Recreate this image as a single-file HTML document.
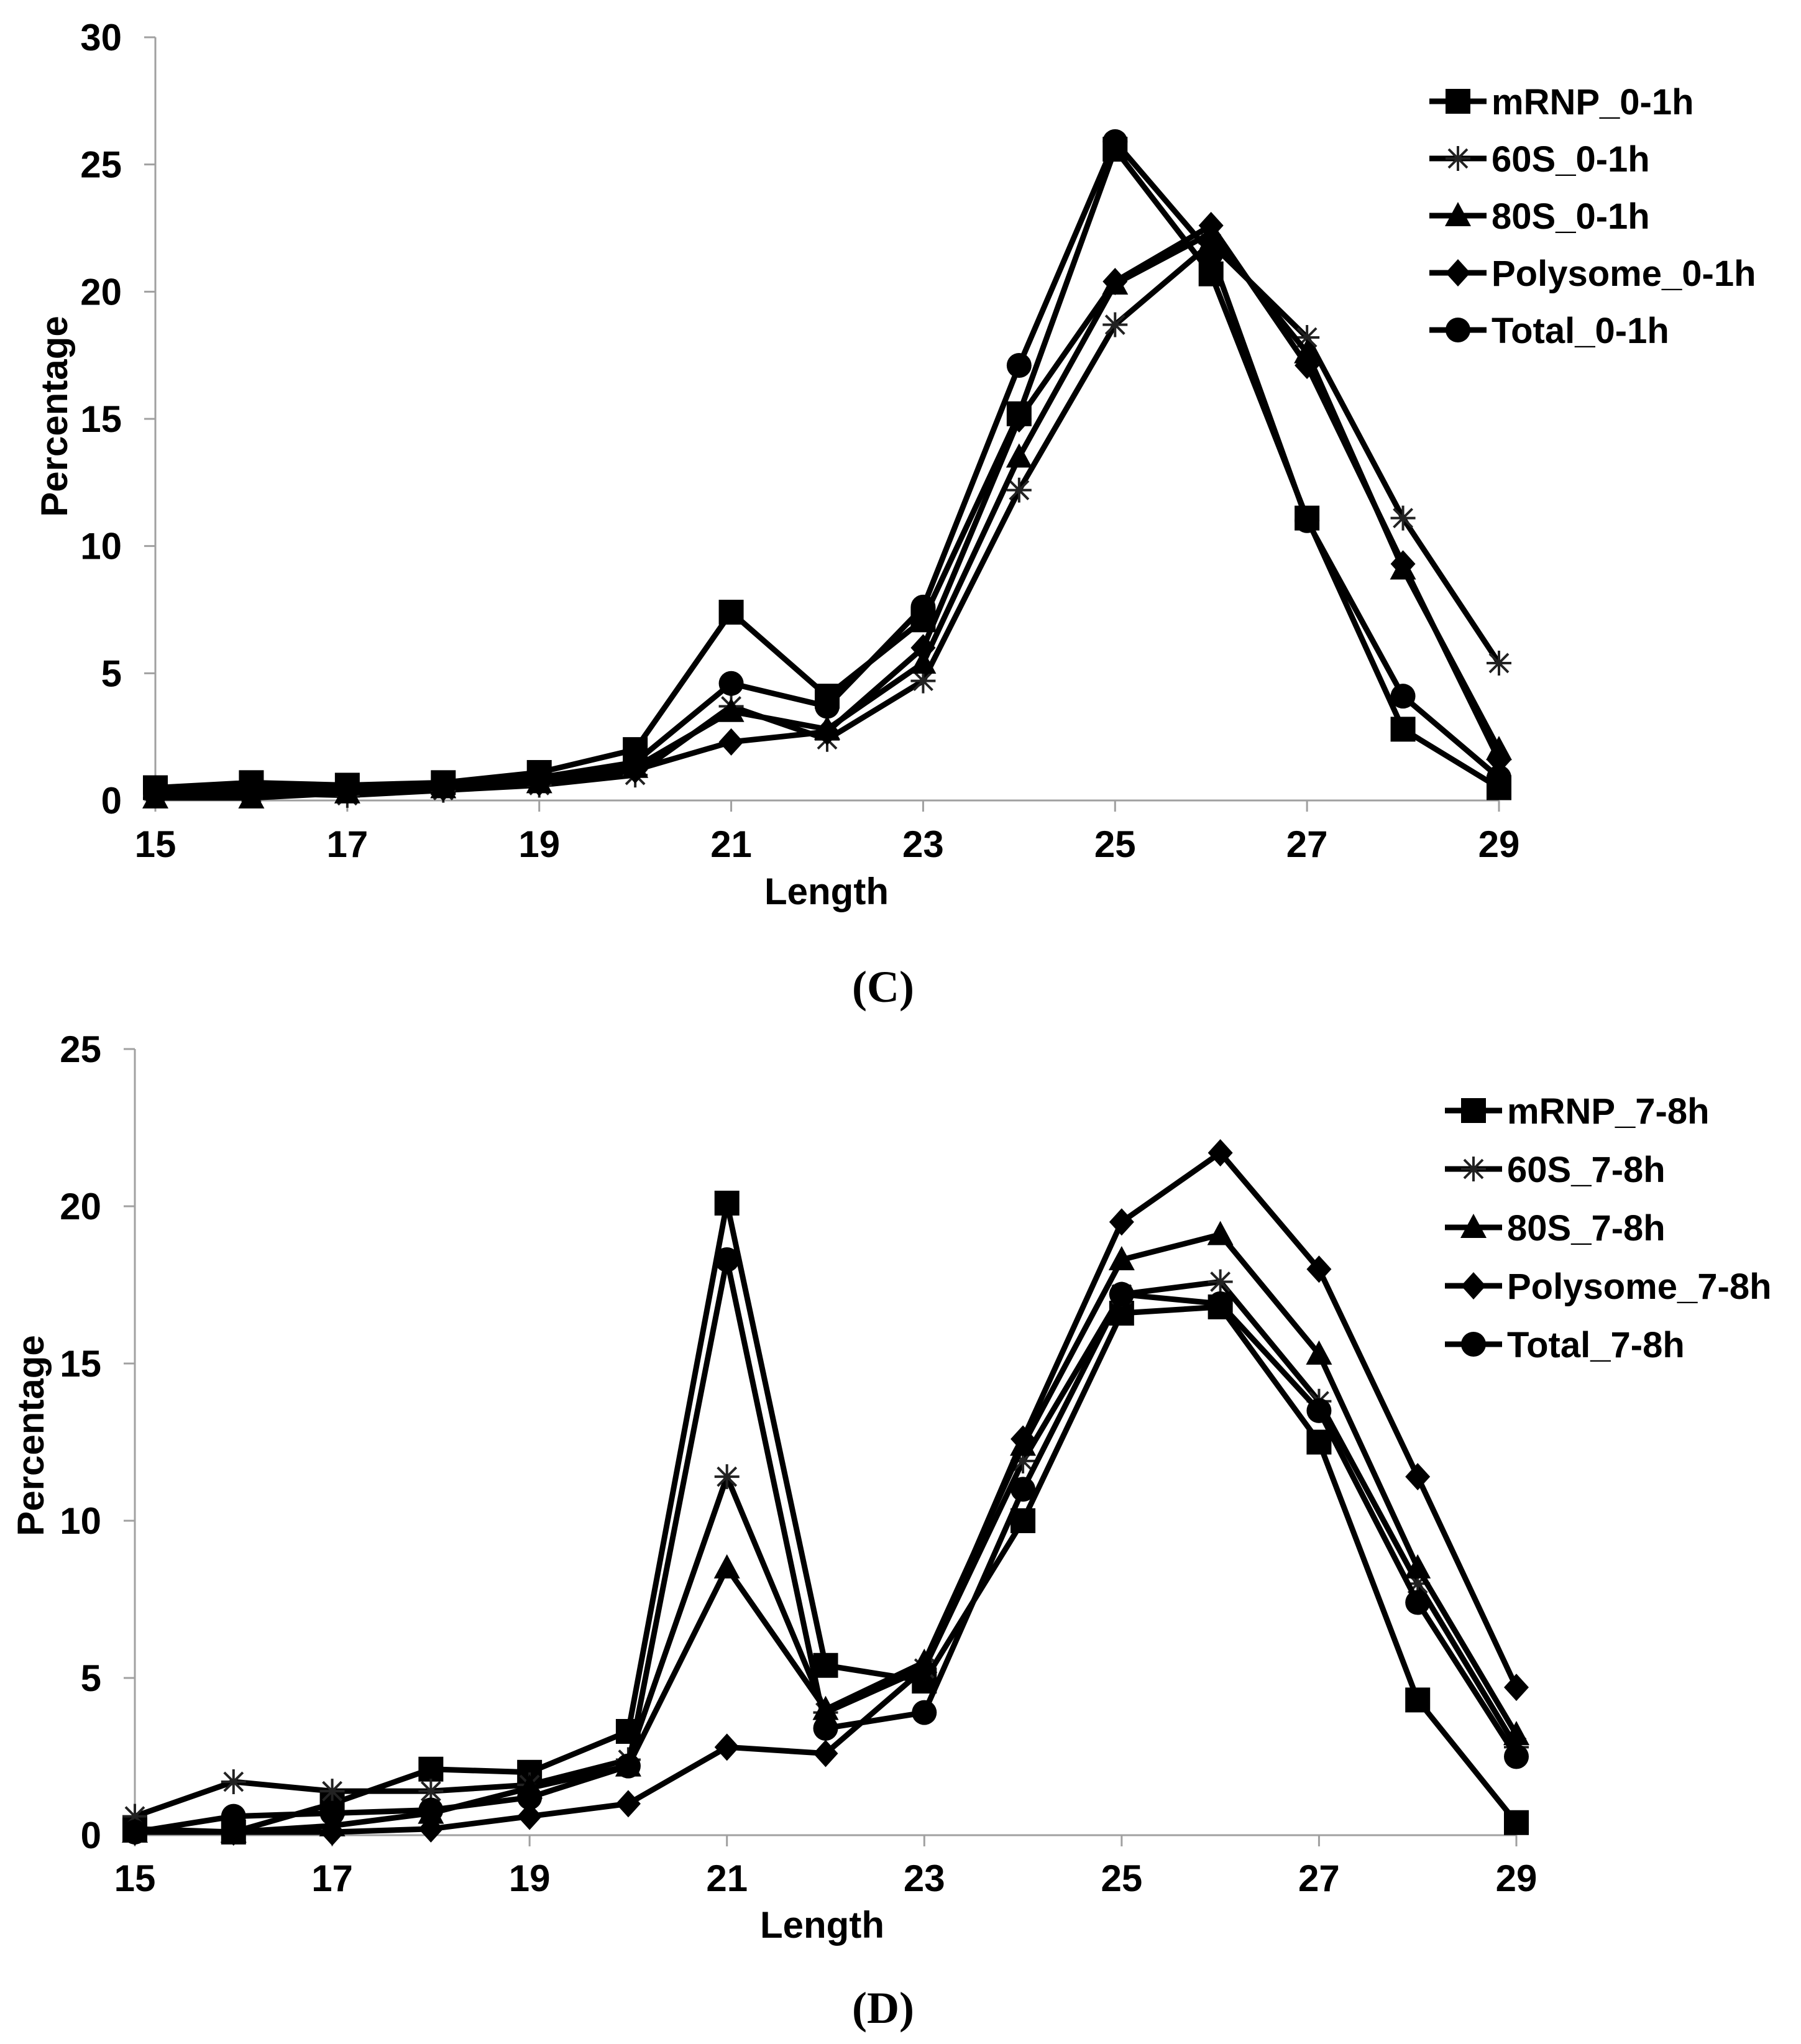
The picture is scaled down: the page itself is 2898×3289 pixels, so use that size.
<!DOCTYPE html>
<html><head><meta charset="utf-8"><style>
html,body{margin:0;padding:0;background:#fff}
svg{display:block}
text{font-family:"Liberation Sans",Arial,sans-serif;font-weight:bold;fill:#000}
.serif{font-family:"Liberation Serif",serif}
</style></head><body>
<svg id="fig" width="2898" height="3289" viewBox="0 0 2898 3289" xmlns="http://www.w3.org/2000/svg"></svg>
<script>
const categories = [15,16,17,18,19,20,21,22,23,24,25,26,27,28,29];
const xTickLabels = [15,17,19,21,23,25,27,29];
const seriesNamesC = ["mRNP_0-1h","60S_0-1h","80S_0-1h","Polysome_0-1h","Total_0-1h"];
const seriesNamesD = ["mRNP_7-8h","60S_7-8h","80S_7-8h","Polysome_7-8h","Total_7-8h"];
const markerTypes = ["square","star","triangle","diamond","circle"];
const yTicksC = [0,5,10,15,20,25,30];
const yTicksD = [0,5,10,15,20,25];
const mrnpC = [0.5,0.7,0.6,0.7,1.1,2.0,7.4,4.1,7.1,15.2,25.6,20.7,11.1,2.8,0.5];
const s60C = [0.2,0.3,0.2,0.4,0.6,1.0,3.7,2.4,4.7,12.2,18.7,21.9,18.2,11.1,5.4];
const s80C = [0.1,0.1,0.3,0.5,0.7,1.3,3.5,2.8,5.4,13.5,20.3,22.3,17.6,9.1,2.0];
const polyC = [0.3,0.3,0.4,0.5,0.7,1.2,2.3,2.7,6.0,15.0,20.4,22.6,17.1,9.3,1.6];
const totalC = [0.3,0.5,0.5,0.6,0.9,1.5,4.6,3.7,7.6,17.1,25.9,21.5,11.0,4.1,0.9];
const mrnpD = [0.2,0.1,1.0,2.1,2.0,3.3,20.1,5.4,4.9,10.0,16.6,16.8,12.5,4.3,0.4];
const s60D = [0.6,1.7,1.4,1.4,1.6,2.4,11.4,3.9,5.3,11.9,17.2,17.6,13.8,8.0,2.8];
const s80D = [0.1,0.1,0.3,0.7,1.5,2.2,8.5,4.0,5.5,12.4,18.3,19.1,15.3,8.5,3.2];
const polyD = [0.1,0.1,0.1,0.2,0.6,1.0,2.8,2.6,5.3,12.6,19.5,21.7,18.0,11.4,4.7];
const totalD = [0.1,0.6,0.7,0.8,1.2,2.2,18.3,3.4,3.9,11.0,17.2,16.9,13.5,7.4,2.5];

const NS="http://www.w3.org/2000/svg";
const svg=document.getElementById('fig');
function mk(tag,attrs,parent){const e=document.createElementNS(NS,tag);for(const k in attrs)e.setAttribute(k,attrs[k]);(parent||svg).appendChild(e);return e;}

function marker(g,type,cx,cy){
  let e;
  if(type==="square"){e=mk('rect',{x:cx-20,y:cy-20,width:40,height:40,fill:'#000'},g);}
  else if(type==="circle"){e=mk('circle',{cx:cx,cy:cy,r:20,fill:'#000'},g);}
  else if(type==="triangle"){e=mk('polygon',{points:`${cx},${cy-22} ${cx+21},${cy+17} ${cx-21},${cy+17}`,fill:'#000'},g);}
  else if(type==="diamond"){e=mk('polygon',{points:`${cx},${cy-22} ${cx+20},${cy} ${cx},${cy+22} ${cx-20},${cy}`,fill:'#000'},g);}
  else {e=mk('path',{d:`M${cx-20},${cy}H${cx+20}M${cx},${cy-20}V${cy+20}M${cx-15},${cy-15}L${cx+15},${cy+15}M${cx-15},${cy+15}L${cx+15},${cy-15}`,stroke:'#222','stroke-width':4,fill:'none'},g);}
  return e;
}

function drawChart(cfg){
  const P=mk('g',{});
  
  
  const xS=v=>cfg.x0+(v-15)*(cfg.x1-cfg.x0)/14;
  const yS=v=>cfg.y0-v*(cfg.y0-cfg.yTop)/cfg.yMax;
  // axes
  const ya=mk('line',{x1:cfg.x0,y1:cfg.yTop,x2:cfg.x0,y2:cfg.y0,stroke:'#a0a0a0','stroke-width':3},P);
  
  const xa=mk('line',{x1:cfg.x0,y1:cfg.y0,x2:cfg.x1,y2:cfg.y0,stroke:'#a0a0a0','stroke-width':3},P);
  
  cfg.yTicks.forEach(t=>{
    const y=yS(t);
    mk('line',{x1:cfg.x0-18,y1:y,x2:cfg.x0,y2:y,stroke:'#a0a0a0','stroke-width':3},P);
    const tx=mk('text',{x:cfg.yLabelRight,y:y+21,'text-anchor':'end','font-size':60},P);
    tx.textContent=t;
    
  });
  xTickLabels.forEach(t=>{
    const x=xS(t);
    mk('line',{x1:x,y1:cfg.y0,x2:x,y2:cfg.y0+18,stroke:'#a0a0a0','stroke-width':3},P);
    const tx=mk('text',{x:x,y:cfg.xLabelBase,'text-anchor':'middle','font-size':60},P);
    tx.textContent=t;
    
  });
  const xt=mk('text',{x:cfg.xTitleX,y:cfg.xTitleY,'text-anchor':'middle','font-size':60},P);
  xt.textContent='Length';
  
  const yt=mk('text',{x:0,y:0,'text-anchor':'middle','font-size':60,transform:`translate(${cfg.yTitleX},${cfg.yTitleY}) rotate(-90)`},P);
  yt.textContent='Percentage';
  
  // series
  cfg.series.forEach((vals,i)=>{
    const g=mk('g',{},P);
    
    
    const pts=vals.map((v,j)=>xS(categories[j])+','+yS(v)).join(' ');
    mk('polyline',{points:pts,fill:'none',stroke:'#000','stroke-width':9,'stroke-linejoin':'round'},g);
    vals.forEach((v,j)=>{
      const m=marker(g,markerTypes[i],xS(categories[j]),yS(v));
      
      
    });
  });
  // legend
  const L=mk('g',{},P);
  
  cfg.names.forEach((n,i)=>{
    const y=cfg.legY+i*cfg.legDy;
    const e=mk('g',{},L);
    
    mk('line',{x1:cfg.legX,y1:y,x2:cfg.legX+92,y2:y,stroke:'#000','stroke-width':9},e);
    marker(e,markerTypes[i],cfg.legX+46,y);
    const t=mk('text',{x:cfg.legX+100,y:y+21,'font-size':58},e);
    t.textContent=n;
  });
  // panel label
  const pl=mk('text',{x:cfg.panelX,y:cfg.panelY,'text-anchor':'middle','font-size':72,class:'serif'},P);
  pl.innerHTML='(<tspan font-weight="bold">'+cfg.panel+'</tspan>)';
  
}

drawChart({name:'chart-c',x0:250,x1:2412,y0:1288,yTop:60,yMax:30,yTicks:yTicksC,yLabelRight:196,
  xLabelBase:1379,xTitleX:1330,xTitleY:1455,yTitleX:108,yTitleY:670,
  series:[mrnpC,s60C,s80C,polyC,totalC],names:seriesNamesC,legX:2300,legY:163,legDy:92,
  panel:'C',panelX:1421,panelY:1612});
drawChart({name:'chart-d',x0:217,x1:2440,y0:2953,yTop:1688,yMax:25,yTicks:yTicksD,yLabelRight:163,
  xLabelBase:3043,xTitleX:1323,xTitleY:3118,yTitleX:70,yTitleY:2310,
  series:[mrnpD,s60D,s80D,polyD,totalD],names:seriesNamesD,legX:2325,legY:1787,legDy:94,
  panel:'D',panelX:1421,panelY:3255});
</script>
</body></html>
